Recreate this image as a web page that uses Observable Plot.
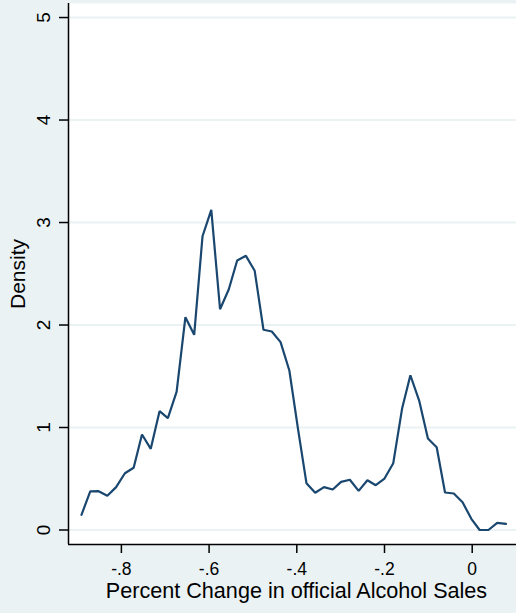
<!DOCTYPE html>
<html>
<head>
<meta charset="utf-8">
<script src="https://cdn.jsdelivr.net/npm/d3@7"></script>
<script src="https://cdn.jsdelivr.net/npm/@observablehq/plot@0.6"></script>
<style>
  html, body { margin: 0; padding: 0; background: #eaf2f3; }
  #chart { width: 516px; height: 613px; }
</style>
</head>
<body>
<div id="chart"></div>
<script>
// Kernel density estimate of the percent change in official alcohol sales
const pctChange = [
  -0.891, -0.871, -0.852, -0.832, -0.812, -0.792, -0.772, -0.753, -0.733, -0.713,
  -0.694, -0.674, -0.654, -0.634, -0.615, -0.595, -0.575, -0.555, -0.536, -0.516,
  -0.496, -0.476, -0.457, -0.437, -0.417, -0.397, -0.378, -0.358, -0.338, -0.318,
  -0.299, -0.279, -0.259, -0.239, -0.220, -0.200, -0.180, -0.160, -0.141, -0.121,
  -0.101, -0.081, -0.062, -0.042, -0.022, -0.002, 0.017, 0.037, 0.057, 0.077
];
const density = [
  0.148, 0.376, 0.379, 0.334, 0.418, 0.554, 0.607, 0.932, 0.792, 1.159,
  1.091, 1.351, 2.076, 1.904, 2.866, 3.124, 2.154, 2.349, 2.629, 2.675,
  2.529, 1.954, 1.937, 1.833, 1.556, 0.980, 0.457, 0.363, 0.418, 0.395,
  0.470, 0.490, 0.382, 0.486, 0.437, 0.502, 0.652, 1.182, 1.510, 1.263,
  0.893, 0.808, 0.366, 0.356, 0.271, 0.109, 0.000, 0.000, 0.070, 0.060
];
const xTicks = [-0.8, -0.6, -0.4, -0.2, 0];
const yTicks = [0, 1, 2, 3, 4, 5];
const xTitle = "Percent Change in official Alcohol Sales";
const yTitle = "Density";

const xDomain = [-0.9206, 0.101];
const yDomain = [-0.1415, 5.137];

const rows = pctChange.map((x, i) => ({x, y: density[i]}));
// Stata-style labels with a plain hyphen and no leading zero: "-.8", "0"
const fmtX = d => d === 0 ? "0" : (d < 0 ? "-" : "") + d3.format(".1f")(Math.abs(d)).replace(/^0/, "");

const ink = "#000000";
const navy = "#1a476f";
const pale = "#eaf2f3";

const chart = Plot.plot({
  width: 516,
  height: 613,
  marginLeft: 68,
  marginRight: 0,
  marginTop: 3,
  marginBottom: 69,
  style: {background: "transparent", fontFamily: "'Liberation Sans', Arial, sans-serif", color: ink},
  x: {domain: xDomain},
  y: {domain: yDomain},
  marks: [
    Plot.frame({fill: "white", stroke: null}),
    Plot.gridY(yTicks, {stroke: pale, strokeOpacity: 1, strokeWidth: 2}),
    Plot.line(rows, {x: "x", y: "y", stroke: navy, strokeWidth: 2.2, strokeLinejoin: "miter"}),
    Plot.ruleX([xDomain[0]], {stroke: ink, strokeWidth: 1.5}),
    Plot.ruleY([yDomain[0]], {stroke: ink, strokeWidth: 1.5}),
    Plot.axisX({ticks: xTicks, tickFormat: fmtX, tickSize: 9, tickPadding: 9,
      fontSize: 17.5, label: null, stroke: ink, strokeWidth: 1.5}),
    Plot.axisY({ticks: yTicks, tickFormat: () => "", tickSize: 9, label: null,
      stroke: ink, strokeWidth: 1.5}),
    Plot.text(yTicks, {y: d => d, text: d => String(d), frameAnchor: "left", dx: -25,
      rotate: -90, textAnchor: "middle", lineAnchor: "middle", fontSize: 19, fill: ink}),
    Plot.text([xTitle], {text: d => d, frameAnchor: "bottom", dx: 4, dy: 53.5,
      lineAnchor: "bottom", textAnchor: "middle", fontSize: 21.6, fill: ink}),
    Plot.text([yTitle], {text: d => d, frameAnchor: "left", dx: -50,
      rotate: -90, textAnchor: "middle", lineAnchor: "middle", fontSize: 21, fill: ink})
  ]
});
document.getElementById("chart").append(chart);
</script>
</body>
</html>
